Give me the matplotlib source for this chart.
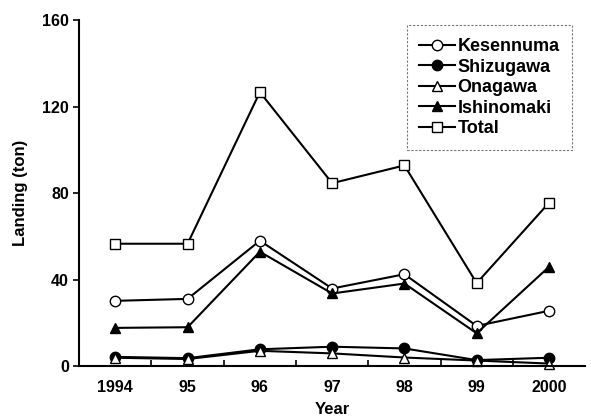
import matplotlib
matplotlib.use("Agg")
import matplotlib.pyplot as plt
import numpy as np

plt.rcParams["font.family"] = ["Liberation Sans", "DejaVu Sans"]
plt.rcParams["font.weight"] = "bold"
plt.rcParams["axes.labelweight"] = "bold"

# ── data ─────────────────────────────────────────────────────────────────────
years = [1994, 1995, 1996, 1997, 1998, 1999, 2000]
year_labels = ["1994", "95", "96", "97", "98", "99", "2000"]

kesennuma = [30.2, 31.1, 58.0, 35.9, 42.5, 18.6, 25.6]
shizugawa = [4.3, 3.7, 7.8, 9.0, 8.2, 2.8, 3.9]
onagawa = [3.9, 3.3, 7.1, 5.9, 4.0, 2.6, 1.2]
ishinomaki = [17.7, 18.0, 52.9, 33.6, 38.2, 15.2, 45.9]
total = [56.6, 56.6, 126.7, 84.6, 92.8, 38.4, 75.5]

y_ticks = [0, 40, 80, 120, 160]

series = [
    ("Kesennuma", kesennuma, "o", "white"),
    ("Shizugawa", shizugawa, "o", "black"),
    ("Onagawa", onagawa, "^", "white"),
    ("Ishinomaki", ishinomaki, "^", "black"),
    ("Total", total, "s", "white"),
]

fig = plt.figure(figsize=(5.91, 4.18), dpi=100)
ax = fig.add_axes([0.134, 0.124, 0.856, 0.828])

for name, vals, mk, fc in series:
    ax.plot(years, vals, color="black", lw=1.5, marker=mk, ms=7.5,
            mfc=fc, mec="black", mew=1.0, label=name, clip_on=False)

ax.set_xlim(1993.5, 2000.5)
ax.set_ylim(0, 160)
ax.set_xticks(years)
ax.set_xticklabels(year_labels)
ax.set_xticks(np.arange(1994.5, 2000.5, 1), minor=True)
ax.set_yticks(y_ticks)

ax.tick_params(axis="x", which="major", length=0, pad=10, labelsize=11.5)
ax.tick_params(axis="x", which="minor", direction="in", length=4, width=1.2)
ax.tick_params(axis="y", direction="out", length=4, width=1.2, labelsize=11.5)

for s in ["top", "right"]:
    ax.spines[s].set_visible(False)
for s in ["left", "bottom"]:
    ax.spines[s].set_linewidth(1.5)

ax.set_xlabel("Year", fontsize=12, labelpad=5)
ax.set_ylabel("Landing (ton)", fontsize=12, labelpad=10)

leg = ax.legend(loc="upper right", bbox_to_anchor=(0.992, 1.011),
                fontsize=13, handlelength=2.0, handletextpad=0.1,
                labelspacing=0.2, borderpad=0.7, fancybox=False,
                framealpha=1)
leg.get_frame().set_edgecolor("#777777")
leg.get_frame().set_linestyle((0, (2, 1.5)))
leg.get_frame().set_linewidth(0.8)

fig.savefig("out.png", dpi=100)
